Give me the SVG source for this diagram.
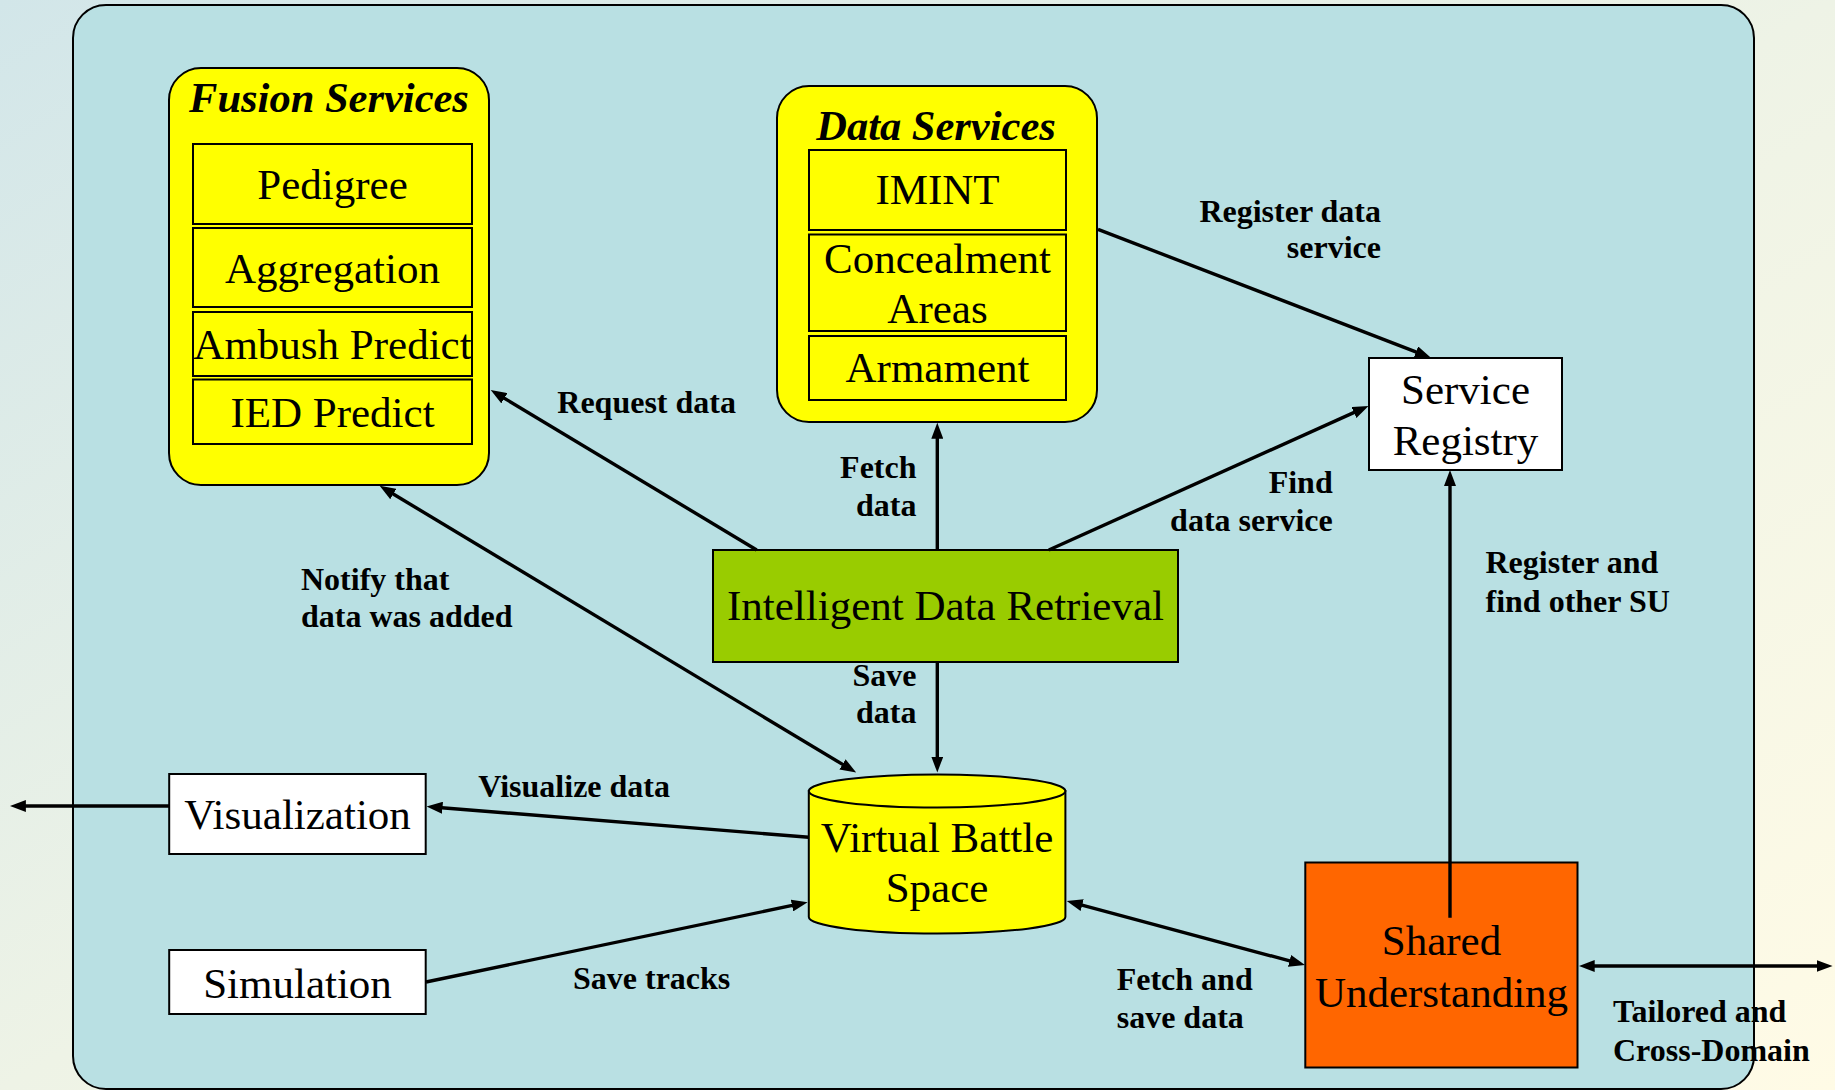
<svg xmlns="http://www.w3.org/2000/svg" width="1835" height="1090" viewBox="0 0 1835 1090">
  <style>
    .box { stroke: #000; stroke-width: 2; }
    .yellow { fill: #FFFF00; }
    .white { fill: #FFFFFF; }
    .green { fill: #99CC00; }
    .orange { fill: #FF6600; }
    .lbl { font-family: "Liberation Serif", "Times New Roman", serif; font-size: 43px; fill: #000; text-anchor: middle; }
    .title { font-family: "Liberation Serif", "Times New Roman", serif; font-size: 42.5px; font-weight: bold; font-style: italic; fill: #000; text-anchor: middle; }
    .elbl { font-family: "Liberation Serif", "Times New Roman", serif; font-size: 32px; font-weight: bold; fill: #000; }
    .end { text-anchor: end; }
    .edge { fill: none; stroke: #000; stroke-width: 3.4; }
  </style>
  <defs>
    <linearGradient id="bg" x1="0" y1="0" x2="1" y2="1">
      <stop offset="0" stop-color="#D2E6E9"/>
      <stop offset="0.5" stop-color="#EEF3E6"/>
      <stop offset="1" stop-color="#FFFBE6"/>
    </linearGradient>
    <marker id="arrow" viewBox="0 0 16 12" refX="4" refY="6" markerWidth="16" markerHeight="12" markerUnits="userSpaceOnUse" orient="auto-start-reverse">
      <path d="M0,0 L16,6 L0,12 Z" fill="#000"/>
    </marker>
  </defs>

  <!-- page background and system boundary -->
  <rect x="0" y="0" width="1835" height="1090" fill="url(#bg)"/>
  <rect id="system" x="73" y="5" width="1681" height="1084" rx="33" ry="33" fill="#B9E0E3" stroke="#000" stroke-width="2"/>

  <!-- Fusion Services -->
  <g id="fusion-services">
    <rect class="box yellow" x="169" y="68" width="320" height="417" rx="32" ry="32"/>
    <text class="title" x="329" y="112">Fusion Services</text>
    <rect class="box yellow" x="193" y="144" width="279" height="80"/>
    <text class="lbl" x="332.5" y="199">Pedigree</text>
    <rect class="box yellow" x="193" y="228" width="279" height="79"/>
    <text class="lbl" x="332.5" y="283">Aggregation</text>
    <rect class="box yellow" x="193" y="312" width="279" height="64"/>
    <text class="lbl" x="332.5" y="359">Ambush Predict</text>
    <rect class="box yellow" x="193" y="379.5" width="279" height="64.5"/>
    <text class="lbl" x="332.5" y="426.5">IED Predict</text>
  </g>

  <!-- Data Services -->
  <g id="data-services">
    <rect class="box yellow" x="777" y="86" width="320" height="336" rx="32" ry="32"/>
    <text class="title" x="936" y="140">Data Services</text>
    <rect class="box yellow" x="809" y="150" width="257" height="80"/>
    <text class="lbl" x="937.5" y="204">IMINT</text>
    <rect class="box yellow" x="809" y="234.5" width="257" height="96.5"/>
    <text class="lbl" x="937.5" y="272.5">Concealment</text>
    <text class="lbl" x="937.5" y="323">Areas</text>
    <rect class="box yellow" x="809" y="336" width="257" height="64"/>
    <text class="lbl" x="937.5" y="382">Armament</text>
  </g>

  <!-- Service Registry -->
  <g id="service-registry">
    <rect class="box white" x="1369" y="358" width="193" height="112"/>
    <text class="lbl" x="1465.5" y="404">Service</text>
    <text class="lbl" x="1465.5" y="455">Registry</text>
  </g>

  <!-- Intelligent Data Retrieval -->
  <g id="intelligent-data-retrieval">
    <rect class="box green" x="713" y="550" width="465" height="112"/>
    <text class="lbl" x="945.5" y="620">Intelligent Data Retrieval</text>
  </g>

  <!-- Virtual Battle Space (data store cylinder) -->
  <g id="virtual-battle-space">
    <path class="box yellow" d="M808.8,791 L808.8,917 A128.3,16.5 0 0 0 1065.4,917 L1065.4,791 Z"/>
    <ellipse class="box yellow" cx="937.1" cy="791" rx="128.3" ry="16.5"/>
    <text class="lbl" x="937" y="851.5">Virtual Battle</text>
    <text class="lbl" x="937" y="901.5">Space</text>
  </g>

  <!-- Visualization -->
  <g id="visualization">
    <rect class="box white" x="169.2" y="774" width="256.5" height="80"/>
    <text class="lbl" x="297.5" y="828.5">Visualization</text>
  </g>

  <!-- Simulation -->
  <g id="simulation">
    <rect class="box white" x="169.2" y="950" width="256.5" height="64"/>
    <text class="lbl" x="297.5" y="997.5">Simulation</text>
  </g>

  <!-- Shared Understanding -->
  <g id="shared-understanding">
    <rect class="box orange" x="1305.3" y="862.5" width="272.2" height="205"/>
    <text class="lbl" x="1441.5" y="954.5">Shared</text>
    <text class="lbl" x="1441.5" y="1007">Understanding</text>
  </g>

  <!-- connectors -->
  <g id="connectors">
    <line class="edge" x1="756.7" y1="550" x2="501" y2="396.2" marker-end="url(#arrow)"/>
    <line class="edge" x1="937.3" y1="550" x2="937.3" y2="434.7" marker-end="url(#arrow)"/>
    <line class="edge" x1="1048.8" y1="550" x2="1357.6" y2="410.9" marker-end="url(#arrow)"/>
    <line class="edge" x1="1098" y1="229.3" x2="1419.7" y2="353.4" marker-end="url(#arrow)"/>
    <line class="edge" x1="1450" y1="917.7" x2="1450" y2="482" marker-end="url(#arrow)"/>
    <line class="edge" x1="937.3" y1="661.7" x2="937.3" y2="760.6" marker-end="url(#arrow)"/>
    <line class="edge" x1="389.9" y1="492" x2="845.9" y2="766.4" marker-start="url(#arrow)" marker-end="url(#arrow)"/>
    <line class="edge" x1="808.8" y1="837.2" x2="438.5" y2="807.5" marker-end="url(#arrow)"/>
    <line class="edge" x1="169.2" y1="806" x2="21.9" y2="806" marker-end="url(#arrow)"/>
    <line class="edge" x1="426" y1="982" x2="795.9" y2="904.7" marker-end="url(#arrow)"/>
    <line class="edge" x1="1078.3" y1="904.1" x2="1293.4" y2="961.9" marker-start="url(#arrow)" marker-end="url(#arrow)"/>
    <line class="edge" x1="1590.7" y1="966" x2="1820.6" y2="966" marker-start="url(#arrow)" marker-end="url(#arrow)"/>
  </g>

  <!-- connector labels -->
  <g id="connector-labels">
    <text class="elbl" x="557.3" y="413.3">Request data</text>
    <text class="elbl end" x="916.5" y="477.5">Fetch</text>
    <text class="elbl end" x="916.5" y="515.5">data</text>
    <text class="elbl end" x="1381" y="221.7">Register data</text>
    <text class="elbl end" x="1381" y="258.3">service</text>
    <text class="elbl end" x="1332.7" y="493.3">Find</text>
    <text class="elbl end" x="1332.7" y="530.7">data service</text>
    <text class="elbl" x="301" y="590">Notify that</text>
    <text class="elbl" x="301" y="627.3">data was added</text>
    <text class="elbl end" x="916.5" y="686.2">Save</text>
    <text class="elbl end" x="916.5" y="723.2">data</text>
    <text class="elbl" x="1485.5" y="573.4">Register and</text>
    <text class="elbl" x="1485.5" y="611.5">find other SU</text>
    <text class="elbl" x="478.3" y="797.3">Visualize data</text>
    <text class="elbl" x="573" y="989">Save tracks</text>
    <text class="elbl" x="1116.7" y="990">Fetch and</text>
    <text class="elbl" x="1116.7" y="1028.3">save data</text>
    <text class="elbl" x="1613" y="1022">Tailored and</text>
    <text class="elbl" x="1613" y="1061">Cross-Domain</text>
  </g>
</svg>
